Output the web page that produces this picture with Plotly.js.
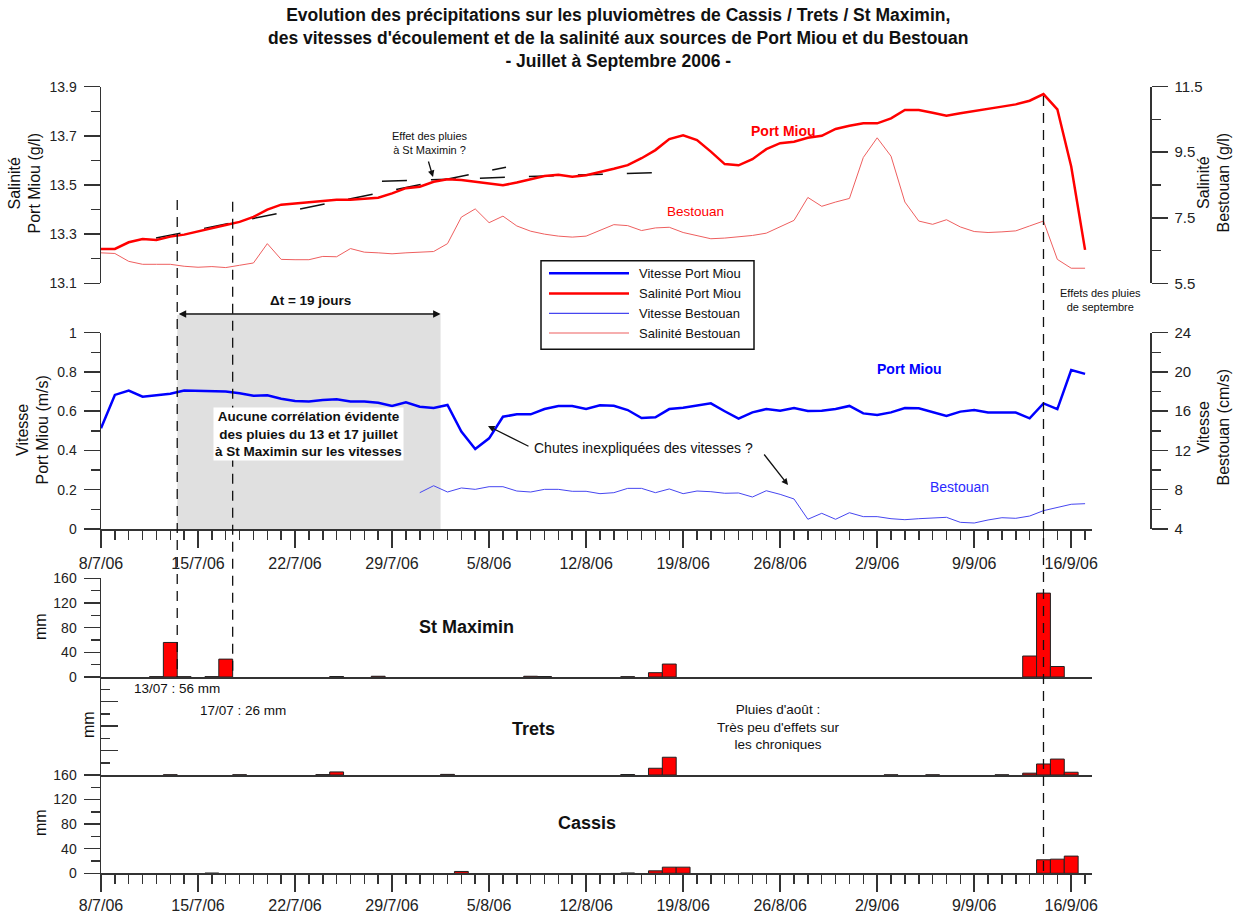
<!DOCTYPE html>
<html><head><meta charset="utf-8">
<script src="https://cdn.plot.ly/plotly-3.0.1.min.js"></script>
<style>html,body{margin:0;padding:0;background:#fff}#chart{width:1235px;height:916px}</style>
</head><body><div id="chart"></div>
<script>
// ---------- DATA ----------
const dates = [
'2006-07-08','2006-07-09','2006-07-10','2006-07-11','2006-07-12','2006-07-13','2006-07-14','2006-07-15','2006-07-16','2006-07-17','2006-07-18','2006-07-19','2006-07-20','2006-07-21','2006-07-22','2006-07-23','2006-07-24','2006-07-25','2006-07-26','2006-07-27','2006-07-28','2006-07-29','2006-07-30','2006-07-31',
'2006-08-01','2006-08-02','2006-08-03','2006-08-04','2006-08-05','2006-08-06','2006-08-07','2006-08-08','2006-08-09','2006-08-10','2006-08-11','2006-08-12','2006-08-13','2006-08-14','2006-08-15','2006-08-16','2006-08-17','2006-08-18','2006-08-19','2006-08-20','2006-08-21','2006-08-22','2006-08-23','2006-08-24','2006-08-25','2006-08-26','2006-08-27','2006-08-28','2006-08-29','2006-08-30','2006-08-31',
'2006-09-01','2006-09-02','2006-09-03','2006-09-04','2006-09-05','2006-09-06','2006-09-07','2006-09-08','2006-09-09','2006-09-10','2006-09-11','2006-09-12','2006-09-13','2006-09-14','2006-09-15','2006-09-16','2006-09-17'];

const salinitePortMiou = [13.24,13.24,13.267,13.28,13.276,13.29,13.298,13.31,13.325,13.337,13.35,13.37,13.40,13.42,13.425,13.43,13.435,13.44,13.44,13.445,13.448,13.466,13.487,13.493,
13.513,13.523,13.52,13.513,13.507,13.499,13.51,13.524,13.537,13.542,13.534,13.54,13.552,13.566,13.581,13.609,13.642,13.687,13.702,13.683,13.636,13.585,13.58,13.605,13.646,13.67,13.676,13.692,13.70,13.728,13.741,
13.751,13.751,13.771,13.805,13.805,13.794,13.782,13.792,13.802,13.812,13.819,13.828,13.843,13.87,13.808,13.575,13.236];

const saliniteBestouan = [6.43,6.41,6.17,6.08,6.08,6.08,6.02,5.99,6.01,5.98,6.05,6.12,6.71,6.23,6.22,6.22,6.32,6.31,6.56,6.45,6.43,6.40,6.43,6.45,
6.47,6.71,7.52,7.77,7.35,7.55,7.25,7.09,7.00,6.94,6.91,6.94,7.12,7.29,7.26,7.11,7.19,7.21,7.05,6.96,6.86,6.88,6.91,6.96,7.03,7.22,7.42,8.12,7.85,7.98,8.09,
9.34,9.94,9.38,7.98,7.40,7.30,7.44,7.22,7.08,7.05,7.07,7.10,7.25,7.40,6.23,5.96,5.96];

const vitessePortMiou = [0.513,0.683,0.705,0.674,0.681,0.689,0.705,0.703,0.70,0.70,0.691,0.679,0.681,0.664,0.652,0.649,0.657,0.661,0.65,0.65,0.643,0.627,0.645,0.623,
0.616,0.632,0.496,0.408,0.462,0.572,0.584,0.584,0.611,0.627,0.627,0.611,0.63,0.628,0.606,0.565,0.569,0.611,0.618,0.63,0.64,0.60,0.562,0.594,0.611,0.603,0.616,0.601,0.603,0.611,0.627,
0.589,0.581,0.594,0.616,0.615,0.594,0.576,0.598,0.606,0.593,0.593,0.593,0.564,0.64,0.611,0.81,0.79];

// Bestouan velocity starts on 31/07
const vitesseBestouanStart = 23;
const vitesseBestouan = [7.70,
8.41,7.77,8.18,8.04,8.31,8.31,7.87,7.77,8.04,8.04,7.84,7.84,7.60,7.70,8.14,8.14,7.70,8.08,7.60,7.87,7.80,7.64,7.67,7.26,7.90,7.53,7.06,4.99,5.60,4.99,5.66,
5.26,5.26,5.05,4.95,5.05,5.09,5.19,4.68,4.61,4.92,5.15,5.09,5.32,5.87,6.21,6.52,6.58];

// Trend dashes on the Port Miou salinity
const trend1X = ['2006-07-11 23:15','2006-08-06 05:20'];
const trend1Y = [13.284, 13.572];
const trend2X = ['2006-07-28 06:30','2006-08-17 03:00'];
const trend2Y = [13.515, 13.551];

// Daily rainfall (mm)
const stMaxDates = ['2006-07-12','2006-07-13','2006-07-14','2006-07-16','2006-07-17','2006-07-25','2006-07-28','2006-08-08','2006-08-09','2006-08-15','2006-08-17','2006-08-18','2006-09-13','2006-09-14','2006-09-15'];
const stMaxRain  = [0.6,56,0.5,0.6,29,0.8,1.2,1.2,0.8,0.5,7,21,34,136,17];
const tretsDates = ['2006-07-13','2006-07-18','2006-07-24','2006-07-25','2006-08-02','2006-08-15','2006-08-17','2006-08-18','2006-09-03','2006-09-06','2006-09-11','2006-09-13','2006-09-14','2006-09-15','2006-09-16'];
const tretsRain  = [0.4,0.4,0.6,5,1,0.8,11,29,0.3,0.3,0.3,3,18,26,4.5];
const cassisDates = ['2006-07-16','2006-08-03','2006-08-15','2006-08-17','2006-08-18','2006-08-19','2006-09-14','2006-09-15','2006-09-16'];
const cassisRain  = [0.3,3,0.4,4,10,10,22,23,28];

const xRange = ['2006-07-08 00:00','2006-09-17 12:00'];
const tickFormat = '%-d/%-m/%y';

// ---------- LAYOUT HELPERS ----------
const W = 1235, H = 916;
const px = x => x / W;
const py = y => 1 - y / H;
const AX = '#333';
const FONT = 'Arial, "Liberation Sans", sans-serif';
const XD = [px(101), px(1092)];
const TOP = [py(283.3), py(86.7)];
const MID = [py(529), py(332.7)];
const STM = [py(677), py(578.3)];
const TRE = [py(775), py(677)];
const CAS = [py(873.3), py(775)];

const RED = '#ff0000', BLUE = '#0000ff';
const RED_L = 'rgb(238,95,95)', BLUE_L = 'rgb(70,70,240)';

function yCommon(extra) {
  return Object.assign({
    showline: true, linecolor: AX, linewidth: 1.5,
    ticks: 'outside', ticklen: 16, tickwidth: 1.5, tickcolor: AX,
    showgrid: false, zeroline: false, tickmode: 'linear',
    tickfont: {size: 14, color: '#222', family: FONT},
    ticklabelstandoff: 4, fixedrange: true
  }, extra);
}
function minor(dt, t0, len, side) {
  return {ticks: side || 'outside', ticklen: len || 9, tickwidth: 1.5, tickcolor: AX, dtick: dt, tick0: t0, showgrid: false};
}
function xDate(anchor, withTicks, standoff) {
  const o = {domain: XD, anchor: anchor, type: 'date', range: xRange, showgrid: false, zeroline: false, fixedrange: true};
  if (withTicks) {
    Object.assign(o, {showline: true, linecolor: AX, linewidth: 1.5, ticks: 'outside', ticklen: 17, tickwidth: 1.5, tickcolor: AX,
      tickmode: 'linear', tick0: '2006-07-08', dtick: 7 * 86400000, tickformat: tickFormat,
      tickfont: {size: 16, color: '#222', family: FONT}, ticklabelstandoff: standoff,
      minor: {ticks: 'outside', ticklen: 9, tickwidth: 1.5, tickcolor: AX, dtick: 86400000, tick0: '2006-07-08', showgrid: false}});
  } else if (anchor === 'y') {
    Object.assign(o, {showline: false, ticks: '', showticklabels: false});
  } else {
    Object.assign(o, {showline: true, linecolor: AX, linewidth: 1.5, ticks: '', showticklabels: false});
  }
  return o;
}

// ---------- TRACES ----------
const barStyle = {color: RED, line: {color: '#222', width: 1}};
const traces = [
  {x: trend1X, y: trend1Y, xaxis: 'x', yaxis: 'y', mode: 'lines', line: {color: '#111', width: 1.5, dash: '25px,24px'}, hoverinfo: 'skip'},
  {x: trend2X, y: trend2Y, xaxis: 'x', yaxis: 'y', mode: 'lines', line: {color: '#111', width: 1.5, dash: '25px,24px'}, hoverinfo: 'skip'},
  {x: dates, y: saliniteBestouan, xaxis: 'x', yaxis: 'y2', mode: 'lines', name: 'Salinité Bestouan', line: {color: RED_L, width: 1}},
  {x: dates, y: salinitePortMiou, xaxis: 'x', yaxis: 'y', mode: 'lines', name: 'Salinité Port Miou', line: {color: RED, width: 2.5}},
  {x: dates.slice(vitesseBestouanStart), y: vitesseBestouan, xaxis: 'x2', yaxis: 'y4', mode: 'lines', name: 'Vitesse Bestouan', line: {color: BLUE_L, width: 1}},
  {x: dates, y: vitessePortMiou, xaxis: 'x2', yaxis: 'y3', mode: 'lines', name: 'Vitesse Port Miou', line: {color: BLUE, width: 2.5}},
  {type: 'bar', x: stMaxDates, y: stMaxRain, xaxis: 'x3', yaxis: 'y5', width: 86400000, marker: barStyle, name: 'St Maximin'},
  {type: 'bar', x: tretsDates, y: tretsRain, xaxis: 'x4', yaxis: 'y6', width: 86400000, marker: barStyle, name: 'Trets'},
  {type: 'bar', x: cassisDates, y: cassisRain, xaxis: 'x5', yaxis: 'y7', width: 86400000, marker: barStyle, name: 'Cassis'}
];

// ---------- SHAPES ----------
const vdash = {color: '#111', width: 1.3, dash: '10px,7px'};
const shapes = [
  {type: 'rect', xref: 'x2', yref: 'paper', x0: '2006-07-13 12:00', x1: '2006-08-01 12:00', y0: py(529), y1: py(315), fillcolor: '#e0e0e0', line: {width: 0}, layer: 'below'},
  {type: 'line', xref: 'x', yref: 'paper', x0: '2006-07-13 12:00', x1: '2006-07-13 12:00', y0: py(200), y1: py(677), line: vdash},
  {type: 'line', xref: 'x', yref: 'paper', x0: '2006-07-17 12:00', x1: '2006-07-17 12:00', y0: py(201.7), y1: py(677), line: vdash},
  {type: 'line', xref: 'x', yref: 'paper', x0: '2006-09-14', x1: '2006-09-14', y0: py(96), y1: py(873), line: vdash},
  // legend box
  {type: 'rect', xref: 'paper', yref: 'paper', x0: px(541), x1: px(754), y0: py(349.3), y1: py(260.7), fillcolor: '#fff', line: {color: '#111', width: 1.5}},
];
const legendItems = [
  {label: 'Vitesse Port Miou', color: BLUE, width: 2.5, y: 273.3},
  {label: 'Salinité Port Miou', color: RED, width: 2.5, y: 293.5},
  {label: 'Vitesse Bestouan', color: BLUE_L, width: 1.2, y: 313.3},
  {label: 'Salinité Bestouan', color: RED_L, width: 1.2, y: 333}
];
legendItems.forEach(it => shapes.push({type: 'line', xref: 'paper', yref: 'paper', x0: px(549), x1: px(629), y0: py(it.y), y1: py(it.y), line: {color: it.color, width: it.width}}));

// ---------- ANNOTATIONS ----------
function txt(text, x, y, size, opts) {
  return Object.assign({text: text, xref: 'paper', yref: 'paper', x: px(x), y: py(y), showarrow: false,
    xanchor: 'center', yanchor: 'middle', font: {size: size, color: '#111', family: FONT}}, opts || {});
}
function arrow(hx, hy, ax, ay, w) {
  return {text: '', xref: 'paper', yref: 'paper', x: px(hx), y: py(hy), ax: ax, ay: ay, showarrow: true,
    arrowhead: 2, arrowsize: 1, arrowwidth: w || 1.3, arrowcolor: '#111', standoff: 0, startstandoff: 0};
}
const annotations = [
  txt('<b>Evolution des précipitations sur les pluviomètres de Cassis / Trets / St Maximin,</b><br><b>des vitesses d\'écoulement et de la salinité aux sources de Port Miou et du Bestouan</b><br><b>- Juillet à Septembre 2006 -</b>', 618, 38, 17.5),
  txt('Salinité<br>Port Miou (g/l)', 24.5, 184, 16, {textangle: -90}),
  txt('Salinité<br>Bestouan (g/l)', 1213.5, 183, 16, {textangle: -90}),
  txt('Vitesse<br>Port Miou (m/s)', 32.5, 430, 16, {textangle: -90}),
  txt('Vitesse<br>Bestouan (cm/s)', 1213.5, 428, 16, {textangle: -90}),
  txt('mm', 40, 627, 16, {textangle: -90}),
  txt('mm', 88, 725, 16, {textangle: -90}),
  txt('mm', 40, 823, 16, {textangle: -90}),
  txt('Effet des pluies<br>à St Maximin ?', 430, 143.5, 11),
  arrow(433, 177, -5, -17, 1.3),
  txt('<b>Port Miou</b>', 783, 131, 14, {font: {size: 14, color: RED, family: FONT}}),
  txt('Bestouan', 695, 211, 13.5, {font: {size: 13.5, color: RED, family: FONT}}),
  txt('Effets des pluies<br>de septembre', 1100, 300, 11),
  txt('<b>\u0394t = 19 jours</b>', 310, 301, 13.5),
  Object.assign(arrow(440.6, 314, -263.4, 0, 1.5), {arrowside: 'end+start', startarrowhead: 2}),
  txt('<b>Aucune corrélation évidente<br>des pluies du 13 et 17 juillet<br>à St Maximin sur les vitesses</b>', 308.5, 434, 13.5, {bgcolor: '#ffffff', borderpad: 1}),
  txt('Chutes inexpliquées des vitesses ?', 644, 448, 14),
  arrow(488, 426, 42, 21, 1.3),
  arrow(788, 485, -25, -32, 1.3),
  txt('<b>Port Miou</b>', 909, 369, 14, {font: {size: 14, color: BLUE, family: FONT}}),
  txt('Bestouan', 959, 487, 14, {font: {size: 14, color: '#2a2aff', family: FONT}}),
  txt('<b>St Maximin</b>', 466, 627, 18),
  txt('<b>Trets</b>', 533, 729, 18),
  txt('<b>Cassis</b>', 587, 823, 18),
  txt('13/07 : 56 mm', 177, 688, 13.5),
  txt('17/07 : 26 mm', 242.7, 710, 13.5),
  txt("Pluies d'août :<br>Très peu d'effets sur<br>les chroniques", 778, 727, 13.5)
];
legendItems.forEach(it => annotations.push(txt(it.label, 637, it.y, 13, {xanchor: 'left'})));

// ---------- LAYOUT ----------
const layout = {
  width: W, height: H, margin: {l: 0, r: 0, t: 0, b: 0},
  paper_bgcolor: '#fff', plot_bgcolor: 'rgba(0,0,0,0)', showlegend: false,
  font: {family: FONT, color: '#111'},
  xaxis: xDate('y', false),
  xaxis2: xDate('y3', true, 2),
  xaxis3: xDate('y5', false),
  xaxis4: xDate('y6', false),
  xaxis5: xDate('y7', true, 0),
  yaxis: yCommon({domain: TOP, anchor: 'x', range: [13.1, 13.9], tick0: 13.1, dtick: 0.2, tickformat: '.1f', minor: minor(0.1, 13.1)}),
  yaxis2: yCommon({overlaying: 'y', side: 'right', anchor: 'free', position: px(1150), range: [5.5, 11.5], tick0: 5.5, dtick: 2, tickformat: '.1f', minor: minor(1, 5.5), tickfont: {size: 15, color: '#222', family: FONT}}),
  yaxis3: yCommon({domain: MID, anchor: 'x2', range: [0, 1], tick0: 0, dtick: 0.2, minor: minor(0.1, 0)}),
  yaxis4: yCommon({overlaying: 'y3', side: 'right', anchor: 'free', position: px(1150), range: [4, 24], tick0: 4, dtick: 4, minor: minor(2, 4), tickfont: {size: 15, color: '#222', family: FONT}}),
  yaxis5: yCommon({domain: STM, anchor: 'x3', range: [0, 160], tick0: 0, dtick: 40, minor: minor(20, 0)}),
  yaxis6: yCommon({domain: TRE, anchor: 'x4', range: [0, 160], tick0: 0, dtick: 40, ticks: 'inside', ticklen: 17, showticklabels: false, minor: minor(20, 0, 9, 'inside')}),
  yaxis7: yCommon({domain: CAS, anchor: 'x5', range: [0, 160], tick0: 0, dtick: 40, minor: minor(20, 0)}),
  shapes: shapes,
  annotations: annotations
};

Plotly.newPlot('chart', traces, layout, {displayModeBar: false, staticPlot: true});
</script></body></html>
